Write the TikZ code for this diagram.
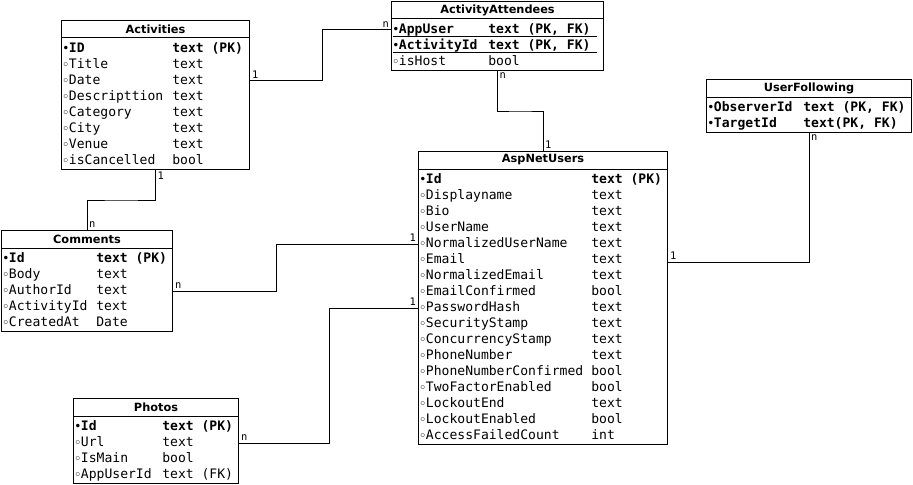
\documentclass[tikz,border=0pt]{standalone}
\usepackage{fontspec}
\setmainfont{DejaVu Sans}
\setmonofont{DejaVu Sans Mono}
\newfontfamily\mkfont{DejaVu Sans}
\usetikzlibrary{calc}

\def\px{0.75pt}
\newcommand{\pkdot}{\makebox[5pt][l]{\mkfont\fontsize{9}{9}\selectfont •}\bfseries}
\newcommand{\fdot}{\makebox[5pt][l]{\mkfont\bfseries\fontsize{8}{8}\selectfont ◦}}

\tikzset{
  tbl/.style={draw, anchor=north west, inner sep=0pt, line width=0.75pt},
  ttl/.style={font=\fontsize{8.5}{10}\selectfont\bfseries, inner sep=0pt},
  fld/.style={anchor=west, inner sep=0pt, text height=7pt, text depth=2pt,
    font=\ttfamily\fontsize{9.8}{11}\selectfont},
  card/.style={font=\ttfamily\fontsize{7.8}{9}\selectfont, inner sep=1.2pt},
  rel/.style={line width=0.75pt},
}

\begin{document}
\begin{tikzpicture}[x=0.75pt, y=-0.75pt]
\useasboundingbox (0,0) rectangle (913,485);

% Activities
\node[tbl, minimum width=188*\px, minimum height=149*\px] at (61,20) (act) {};
\node[ttl] at ($(act.north)+(0,9)$) (act-t) {Activities};
\draw[rel] ($(act.north west)+(0,18)$) -- ($(act.north east)+(0,18)$);
\foreach \n/\t [count=\i] in {{\pkdot ID}/{\bfseries text (PK)}, {\fdot Title}/text,
    {\fdot Date}/text, {\fdot Descripttion}/text, {\fdot Category}/text,
    {\fdot City}/text, {\fdot Venue}/text, {\fdot isCancelled}/bool} {
  \node[fld] at ($(act.north west)+(1,13+16*\i)$) (act-\i) {\n};
  \node[fld] at ($(act.north west)+(111,13+16*\i)$) (act-ty\i) {\t};
}

% ActivityAttendees
\node[tbl, minimum width=212*\px, minimum height=69*\px] at (391,1) (aa) {};
\node[ttl] at ($(aa.north)+(0,9)$) (aa-t) {ActivityAttendees};
\draw[rel] ($(aa.north west)+(0,18)$) -- ($(aa.north east)+(0,18)$);
\foreach \n/\t [count=\i] in {{\pkdot AppUser}/{\bfseries text (PK, FK)},
    {\pkdot ActivityId}/{\bfseries text (PK, FK)}, {\fdot isHost}/bool} {
  \node[fld] at ($(aa.north west)+(1,13+16*\i)$) (aa-\i) {\n};
  \node[fld] at ($(aa.north west)+(97,13+16*\i)$) (aa-ty\i) {\t};
}
\draw[rel] ($(aa.north west)+(2,36)$) -- ++(204,0);
\draw[rel] ($(aa.north west)+(2,52)$) -- ++(204,0);

% UserFollowing
\node[tbl, minimum width=205*\px, minimum height=53*\px] at (706,79) (uf) {};
\node[ttl] at ($(uf.north)+(0,9)$) (uf-t) {UserFollowing};
\draw[rel] ($(uf.north west)+(0,18)$) -- ($(uf.north east)+(0,18)$);
\foreach \n/\t [count=\i] in {{\pkdot ObserverId}/{\bfseries text (PK, FK)},
    {\pkdot TargetId}/{\bfseries text(PK, FK)}} {
  \node[fld] at ($(uf.north west)+(1,13+16*\i)$) (uf-\i) {\n};
  \node[fld] at ($(uf.north west)+(97,13+16*\i)$) (uf-ty\i) {\t};
}

% Comments
\node[tbl, minimum width=171*\px, minimum height=101*\px] at (1,230) (com) {};
\node[ttl] at ($(com.north)+(0,9)$) (com-t) {Comments};
\draw[rel] ($(com.north west)+(0,18)$) -- ($(com.north east)+(0,18)$);
\foreach \n/\t [count=\i] in {{\pkdot Id}/{\bfseries text (PK)}, {\fdot Body}/text,
    {\fdot AuthorId}/text, {\fdot ActivityId}/text, {\fdot CreatedAt}/Date} {
  \node[fld] at ($(com.north west)+(1,13+16*\i)$) (com-\i) {\n};
  \node[fld] at ($(com.north west)+(95,13+16*\i)$) (com-ty\i) {\t};
}

% Photos
\node[tbl, minimum width=165*\px, minimum height=85*\px] at (73,398) (pho) {};
\node[ttl] at ($(pho.north)+(0,9)$) (pho-t) {Photos};
\draw[rel] ($(pho.north west)+(0,18)$) -- ($(pho.north east)+(0,18)$);
\foreach \n/\t [count=\i] in {{\pkdot Id}/{\bfseries text (PK)}, {\fdot Url}/text,
    {\fdot IsMain}/bool, {\fdot AppUserId}/{text (FK)}} {
  \node[fld] at ($(pho.north west)+(1,13+16*\i)$) (pho-\i) {\n};
  \node[fld] at ($(pho.north west)+(89,13+16*\i)$) (pho-ty\i) {\t};
}

% AspNetUsers
\node[tbl, minimum width=249*\px, minimum height=293*\px] at (418,151) (anu) {};
\node[ttl] at ($(anu.north)+(0,9)$) (anu-t) {AspNetUsers};
\draw[rel] ($(anu.north west)+(0,18)$) -- ($(anu.north east)+(0,18)$);
\foreach \n/\t [count=\i] in {{\pkdot Id}/{\bfseries text (PK)}, {\fdot Displayname}/text,
    {\fdot Bio}/text, {\fdot UserName}/text, {\fdot NormalizedUserName}/text,
    {\fdot Email}/text, {\fdot NormalizedEmail}/text, {\fdot EmailConfirmed}/bool,
    {\fdot PasswordHash}/text, {\fdot SecurityStamp}/text, {\fdot ConcurrencyStamp}/text,
    {\fdot PhoneNumber}/text, {\fdot PhoneNumberConfirmed}/bool,
    {\fdot TwoFactorEnabled}/bool, {\fdot LockoutEnd}/text,
    {\fdot LockoutEnabled}/bool, {\fdot AccessFailedCount}/int} {
  \node[fld] at ($(anu.north west)+(1,13+16*\i)$) (anu-\i) {\n};
  \node[fld] at ($(anu.north west)+(173,13+16*\i)$) (anu-ty\i) {\t};
}

% relations
\draw[rel] (act.east |- act-3) -- node[card, pos=0, above right] (r1a) {1} ++(72,0)
  |- node[card, pos=1, above left] (r1b) {n} (aa.west |- aa-1);
\draw[rel] (aa.south) |- node[card, pos=0, below right] (r2a) {n} ($(aa.south)!0.5!(anu.north)$)
  -| node[card, pos=1, above right] (r2b) {1} (anu.north);
\draw[rel] (act.south) |- node[card, pos=0, below right] (r3a) {1} ($(act.south)!0.5!(com.north)$)
  -| node[card, pos=1, above right] (r3b) {n} (com.north);
\draw[rel] (com.east |- com-3) -- node[card, pos=0, above right] (r4a) {n} ++(103,0)
  |- node[card, pos=1, above left] (r4b) {1} (anu.west |- anu-5);
\draw[rel] (pho.east |- pho-2) -- node[card, pos=0, above right] (r5a) {n} ++(90,0)
  |- node[card, pos=1, above left] (r5b) {1} (anu.west |- anu-9);
\draw[rel] (uf.south) |- node[card, pos=0, below right] (r6a) {n} ($(anu.north east)+(0,111)$)
  node[card, above right] (r6b) {1};
\end{tikzpicture}
\end{document}
